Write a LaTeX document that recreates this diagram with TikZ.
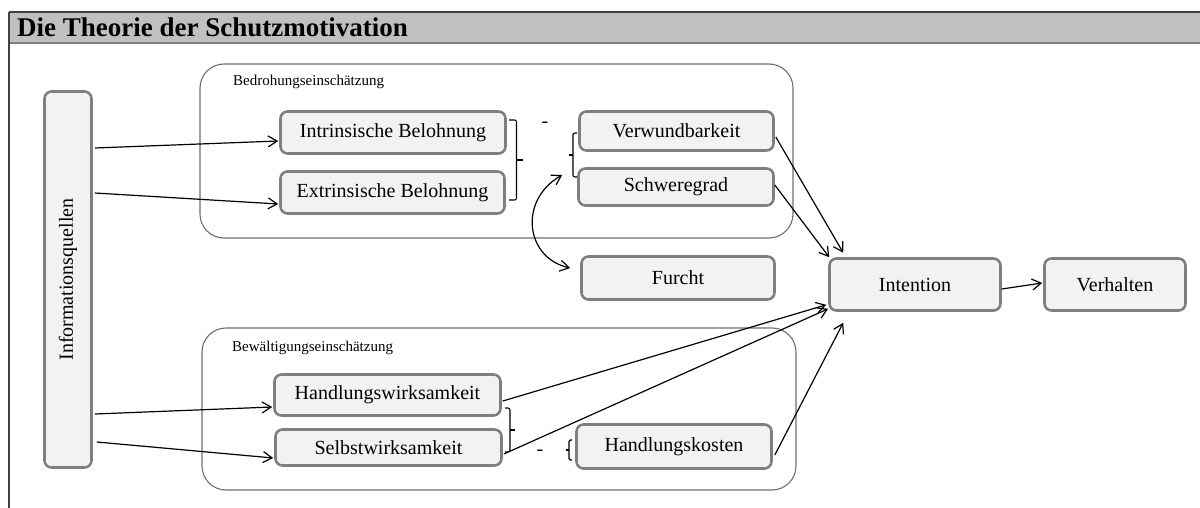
\documentclass[tikz,border=0pt]{standalone}
\usepackage{fontspec}
\usepackage{graphicx}
\setmainfont{Liberation Serif}
\usetikzlibrary{arrows.meta}
\definecolor{boxfill}{HTML}{F2F2F2}
\definecolor{boxline}{HTML}{7F7F7F}
\definecolor{framegray}{HTML}{6E6E6E}
\definecolor{titlefill}{HTML}{C0C0C0}
\definecolor{rulegray}{HTML}{404040}
\begin{document}
\begin{tikzpicture}[x=1pt,y=-1pt,
  concept/.style={draw=boxline, line width=2.6pt, fill=boxfill, rounded corners=7pt,
    inner sep=0pt, font=\fontsize{20}{24}\selectfont},
  group/.style={draw=framegray, line width=1.1pt, rounded corners=24pt},
  grouplabel/.style={anchor=west, inner sep=0pt, font=\fontsize{15}{18}\selectfont},
  tip/.tip={Straight Barb[length=9pt,width=11pt]},
  flow/.style={-tip, line width=1.2pt},
  bracket/.style={line width=1.1pt},
  minus/.style={inner sep=0pt, font=\fontsize{20}{24}\selectfont}
]
\useasboundingbox (0,0) rectangle (1200,508);

% title bar and left frame rule
\fill[titlefill] (9,12) rectangle (1200,43);
\draw[line width=1.5pt, rulegray] (9,12) -- (1200,12);
\draw[line width=2pt, boxline] (9,43) -- (1200,43);
\draw[line width=1.3pt, rulegray] (9,12) -- (9,508);
\node[anchor=base west, inner sep=0pt, font=\fontsize{27}{30}\selectfont\bfseries] (title) at (17,37) {Die Theorie der Schutzmotivation};

% appraisal groups
\draw[group] (200,64) rectangle (793,238);
\node[grouplabel] (threatlabel) at (233,82) {Bedrohungseinschätzung};
\draw[group] (202,328) rectangle (796,490);
\node[grouplabel] (copinglabel) at (232,348) {Bewältigungseinschätzung};

% concepts
\node[concept, minimum width=47pt, minimum height=376pt] (info) at (68,279.5) {\rotatebox{90}{Informationsquellen}};
\node[concept, minimum width=225pt, minimum height=42pt] (intr) at (393,132.5) {Intrinsische Belohnung};
\node[concept, minimum width=224pt, minimum height=42pt] (extr) at (392.5,192.5) {Extrinsische Belohnung};
\node[concept, minimum width=194pt, minimum height=39pt] (verw) at (676.5,131) {Verwundbarkeit};
\node[concept, minimum width=195pt, minimum height=37pt] (schw) at (676,187) {Schweregrad};
\node[concept, minimum width=193pt, minimum height=43pt] (furcht) at (678,278) {Furcht};
\node[concept, minimum width=171pt, minimum height=52pt] (intention) at (915,284.5) {Intention};
\node[concept, minimum width=141pt, minimum height=52pt] (verhalten) at (1115,284.5) {Verhalten};
\node[concept, minimum width=226pt, minimum height=41pt] (handw) at (387.5,395) {Handlungswirksamkeit};
\node[concept, minimum width=226pt, minimum height=36pt] (selbst) at (388.5,447.5) {Selbstwirksamkeit};
\node[concept, minimum width=195pt, minimum height=44pt] (hkosten) at (674,446.5) {Handlungskosten};

% brackets and minus signs
\draw[bracket, rounded corners=2pt] (509,120) -- (516.5,120) -- (516.5,200) -- (509,200);
\draw[bracket] (516.5,160) -- (523,160);
\node[minus] (minusthreat) at (545,125) {-};
\draw[bracket, rounded corners=2pt] (577,133) -- (573,133) -- (573,177) -- (577,177);
\draw[bracket] (573,155) -- (569,155);
\draw[bracket, rounded corners=2pt] (505,408) -- (510,408) -- (510,452) -- (505,452);
\draw[bracket] (510,430) -- (515,430);
\node[minus] (minuscoping) at (540,453) {-};
\draw[bracket, rounded corners=1.5pt] (572,440) -- (569,440) -- (569,460) -- (572,460);
\draw[bracket] (569,450) -- (566,450);

% information sources
\draw[flow] ([xshift=2pt,yshift=131.5pt]info.east) -- ([xshift=-1pt,yshift=-8.5pt]intr.west);
\draw[flow] ([xshift=2pt,yshift=86.5pt]info.east) -- ([xshift=-1pt,yshift=-11.5pt]extr.west);
\draw[flow] ([xshift=2pt,yshift=-134.5pt]info.east) -- ([xshift=-1pt,yshift=-12pt]handw.west);
\draw[flow] ([xshift=4pt,yshift=-162.5pt]info.east) -- ([xshift=-1pt,yshift=-10.5pt]selbst.west);

% fear link
\draw[tip-tip, line width=1.2pt] ([xshift=-15pt,yshift=12pt]schw.west) .. controls +(-44,25) and +(-45,-10) .. ([xshift=-10pt,yshift=10pt]furcht.west);

% into intention
\draw[flow] ([xshift=1pt,yshift=-6pt]verw.east) -- ([xshift=15pt,yshift=4.5pt]intention.north west);
\draw[flow] ([yshift=2pt]schw.east) -- ([xshift=1pt]intention.north west);
\draw[flow] ([xshift=1pt,yshift=-6pt]handw.east) -- ([xshift=-2pt,yshift=7pt]intention.south west);
\draw[flow] ([xshift=1pt,yshift=-6.5pt]selbst.east) -- ([yshift=3pt]intention.south west);
\draw[flow] ([xshift=2pt,yshift=-8.5pt]hkosten.east) -- ([xshift=15pt,yshift=-11pt]intention.south west);
\draw[flow] ([yshift=-4.5pt]intention.east) -- ([xshift=-1pt,yshift=1.5pt]verhalten.west);
\end{tikzpicture}
\end{document}
